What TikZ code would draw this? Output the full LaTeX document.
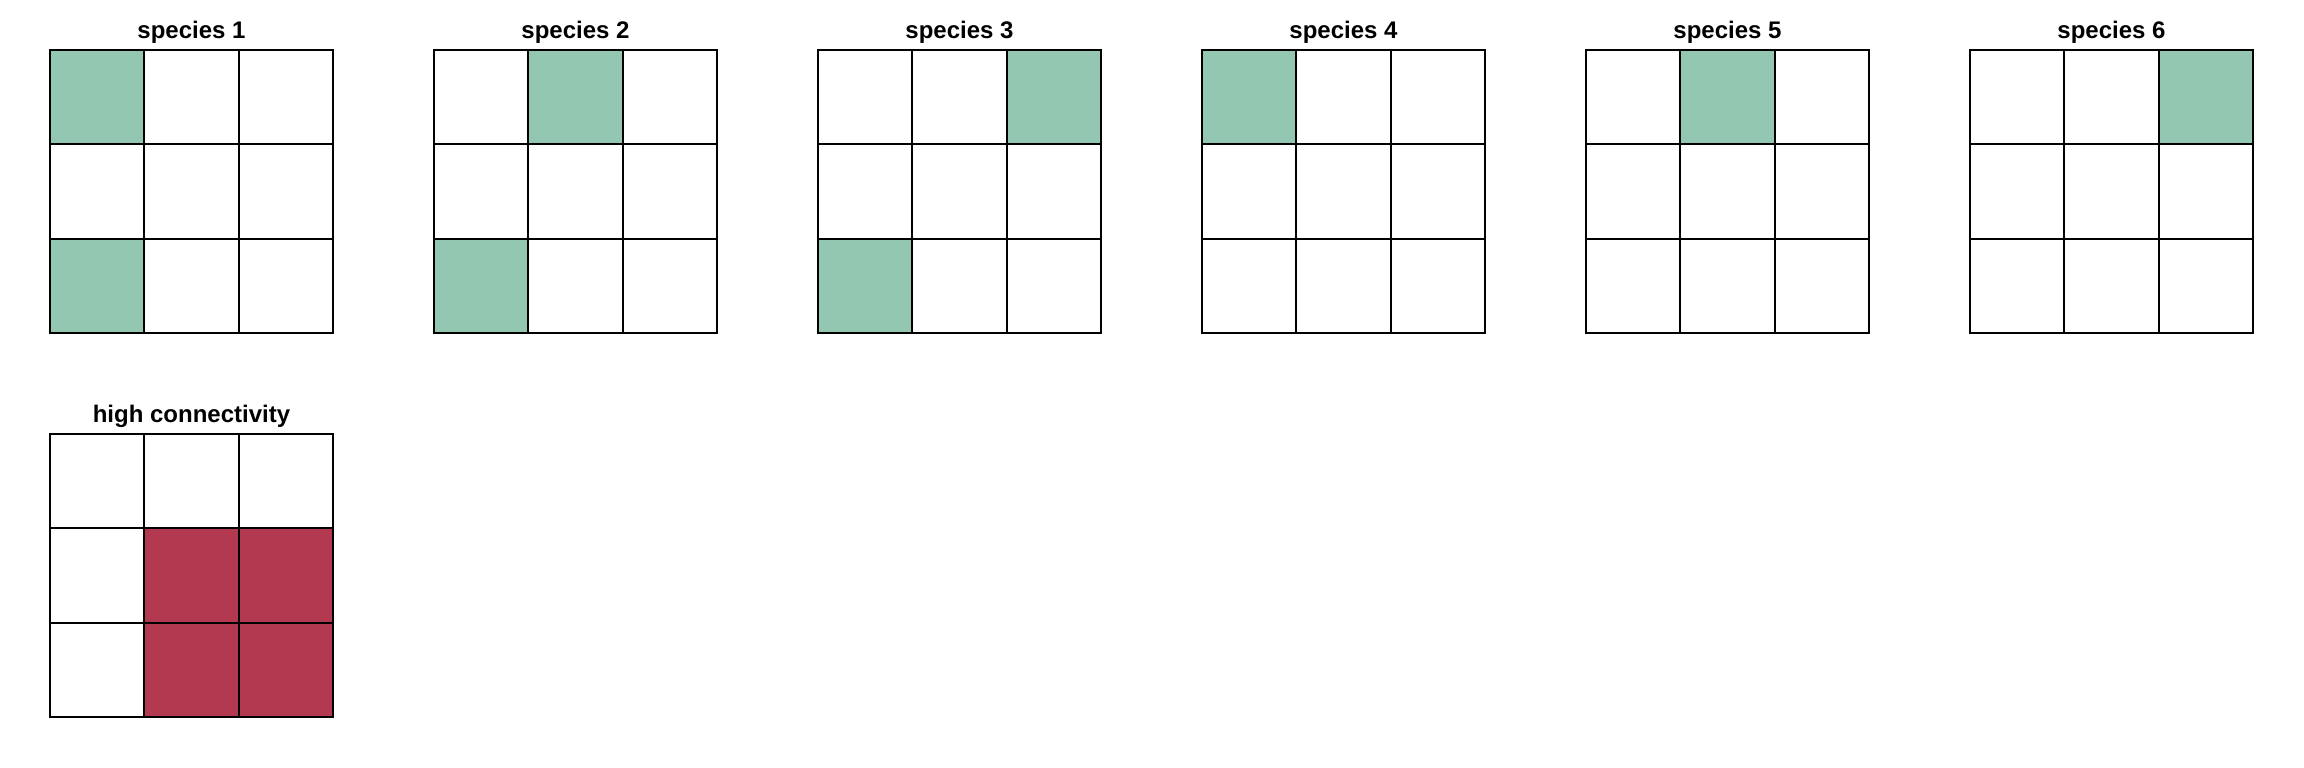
\documentclass[tikz,border=0pt]{standalone}
\usepackage{fontspec}
\setmainfont{Liberation Sans}
\definecolor{spgreen}{RGB}{148,199,177}
\definecolor{hcred}{RGB}{179,57,81}
\tikzset{
  cell/.style={draw,line width=1.8pt,minimum size=94.33pt,inner sep=0pt},
  gridtitle/.style={anchor=base,font=\fontsize{24}{24}\selectfont\bfseries},
}
% one 3x3 grid: name, left x, top y, title
\newcommand{\cellgrid}[4]{%
  \node[gridtitle] (#1t) at ({#2+141.5},{#3+11}) {#4};
  \foreach \r in {1,2,3}
    \foreach \c in {1,2,3}
      \node[cell] (#1-\r-\c) at ({#2+94.33*(\c-0.5)},{#3-94.33*(\r-0.5)}) {};
}
\begin{document}
\begin{tikzpicture}[x=1pt,y=1pt]
\useasboundingbox (0,0) rectangle (2304,768);
\foreach \k/\cells in {1/{1/1,3/1},2/{1/2,3/1},3/{1/3,3/1},4/{1/1},5/{1/2},6/{1/3}}{
  \pgfmathsetmacro{\left}{50+384*(\k-1)}
  \foreach \r/\c in \cells
    \fill[spgreen] ({\left+94.33*(\c-1)},{718-94.33*(\r-1)}) rectangle ++(94.33,-94.33);
  \cellgrid{sp\k}{\left}{718}{species \k}
}
\foreach \r/\c in {2/2,2/3,3/2,3/3}
  \fill[hcred] ({50+94.33*(\c-1)},{334-94.33*(\r-1)}) rectangle ++(94.33,-94.33);
\cellgrid{hc}{50}{334}{high connectivity}
\end{tikzpicture}
\end{document}
